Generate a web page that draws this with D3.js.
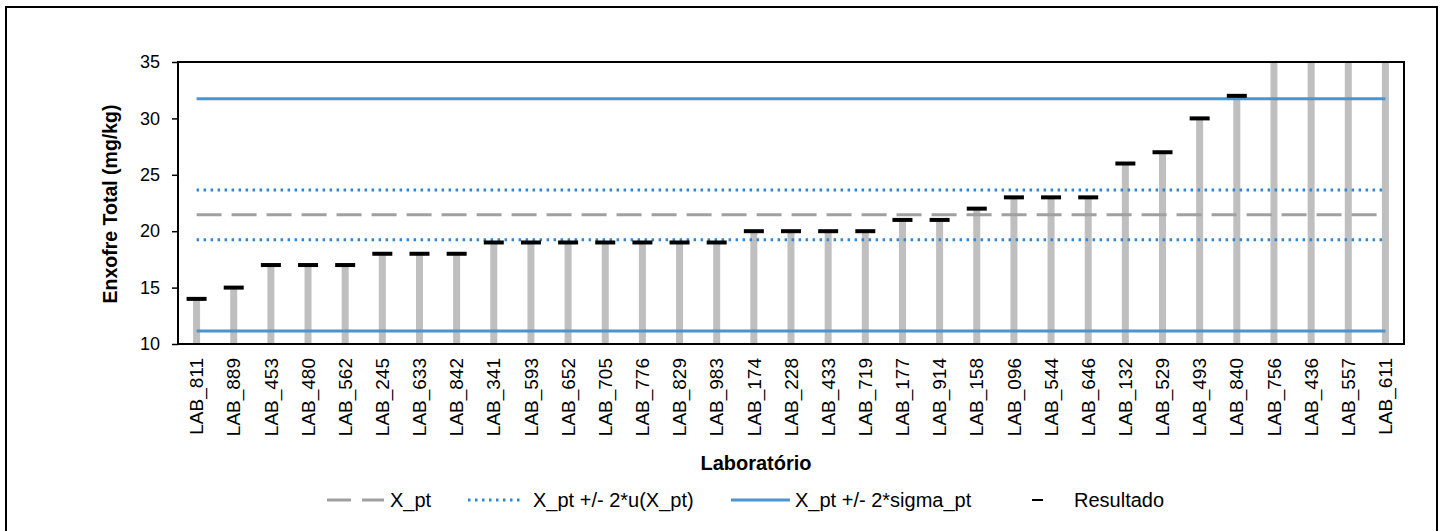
<!DOCTYPE html>
<html>
<head>
<meta charset="utf-8">
<script src="https://cdn.jsdelivr.net/npm/d3@7"></script>
<style>
  body { margin: 0; background: #fff; }
  svg { display: block; font-family: "Liberation Sans", Arial, sans-serif; }
</style>
</head>
<body>
<div id="graf"></div>
<script>
// Enxofre total por laboratório

// datos
labs = ['LAB_811', 'LAB_889', 'LAB_453', 'LAB_480', 'LAB_562', 'LAB_245', 'LAB_633',
        'LAB_842', 'LAB_341', 'LAB_593', 'LAB_652', 'LAB_705', 'LAB_776', 'LAB_829',
        'LAB_983', 'LAB_174', 'LAB_228', 'LAB_433', 'LAB_719', 'LAB_177', 'LAB_914',
        'LAB_158', 'LAB_096', 'LAB_544', 'LAB_646', 'LAB_132', 'LAB_529', 'LAB_493',
        'LAB_840', 'LAB_756', 'LAB_436', 'LAB_557', 'LAB_611']
resultados = [14, 15, 17, 17, 17, 18, 18, 18, 19, 19, 19, 19, 19, 19, 19, 20, 20, 20, 20,
              21, 21, 22, 23, 23, 23, 26, 27, 30, 32, 45, 52, 60, 70]
x_pt = 21.45
lim_u = [19.25, 23.65]        // X_pt +/- 2*u(X_pt)
lim_sigma = [11.15, 31.75]    // X_pt +/- 2*sigma_pt
yTicks = [10, 15, 20, 25, 30, 35]
leyenda = ['X_pt', 'X_pt +/- 2*u(X_pt)', 'X_pt +/- 2*sigma_pt', 'Resultado']

ancho_total = 1448
alto_total = 531
plot = { left: 178, top: 62, right: 1404, bottom: 344 }

svg = d3.select('#graf').append('svg')
        .attr('width', ancho_total)
        .attr('height', alto_total)

// marco exterior
svg.append('rect')
   .attr('x', 6).attr('y', 7)
   .attr('width', 1431).attr('height', 540)
   .attr('fill', '#fff')
   .attr('stroke', '#000')
   .attr('stroke-width', 2)

// Escaladores
x = d3.scaleBand().domain(labs).range([plot.left, plot.right]).padding(0)
y = d3.scaleLinear().domain([10, 35]).range([plot.bottom, plot.top])
cx = d => x(d) + x.bandwidth() / 2

svg.append('clipPath').attr('id', 'clip')
   .append('rect')
   .attr('x', plot.left).attr('y', plot.top)
   .attr('width', plot.right - plot.left).attr('height', plot.bottom - plot.top)

g = svg.append('g').attr('clip-path', 'url(#clip)')

// barras
g.selectAll('.barra')
 .data(labs)
 .enter().append('rect')
 .attr('class', 'barra')
 .attr('x', d => cx(d) - 3.5)
 .attr('width', 7)
 .attr('y', (d, i) => y(resultados[i]))
 .attr('height', (d, i) => y(10) - y(resultados[i]))
 .attr('fill', '#bfbfbf')

// líneas de referencia
x0 = cx(labs[0])
x1 = cx(labs[labs.length - 1])
function hline(v, color, dash) {
  g.append('line')
   .attr('x1', x0).attr('x2', x1)
   .attr('y1', y(v)).attr('y2', y(v))
   .attr('stroke', color)
   .attr('stroke-width', 3)
   .attr('stroke-dasharray', dash)
}
hline(x_pt, '#a0a0a0', '25,10')
lim_u.forEach(v => hline(v, '#2f87d4', '2.5,4.5'))
lim_sigma.forEach(v => hline(v, '#4a94d2', null))

// marcadores de resultado
g.selectAll('.marca')
 .data(labs)
 .enter().append('rect')
 .attr('class', 'marca')
 .attr('x', d => cx(d) - 10)
 .attr('width', 20)
 .attr('y', (d, i) => y(resultados[i]) - 2)
 .attr('height', 4)
 .attr('fill', '#000')

// borde del área
svg.append('rect')
   .attr('x', plot.left).attr('y', plot.top)
   .attr('width', plot.right - plot.left).attr('height', plot.bottom - plot.top)
   .attr('fill', 'none')
   .attr('stroke', '#000')
   .attr('stroke-width', 2)

// Ejes
yAxis = svg.append('g')
   .attr('transform', `translate(${plot.left}, 0)`)
   .call(d3.axisLeft(y).tickValues(yTicks).tickSize(6).tickPadding(12))
yAxis.select('.domain').remove()
yAxis.selectAll('line').attr('stroke', '#000').attr('stroke-width', 1.5)
yAxis.selectAll('text').attr('font-size', 18).attr('fill', '#000')
     .attr('font-family', '"Liberation Sans", Arial, sans-serif')

xAxis = svg.append('g')
   .attr('transform', `translate(0, ${plot.bottom})`)
   .call(d3.axisBottom(x).tickSize(0))
xAxis.select('.domain').remove()
xAxis.selectAll('text')
     .attr('font-size', 19).attr('fill', '#000')
     .attr('font-family', '"Liberation Sans", Arial, sans-serif')
     .attr('text-anchor', 'end')
     .attr('transform', 'rotate(-90)')
     .attr('x', -14).attr('y', 0).attr('dy', '0.35em')

// Títulos
svg.append('text')
   .attr('transform', 'translate(117, 204) rotate(-90)')
   .attr('text-anchor', 'middle')
   .attr('font-size', 19.5).attr('font-weight', 'bold')
   .text('Enxofre Total (mg/kg)')

svg.append('text')
   .attr('x', 756).attr('y', 470)
   .attr('text-anchor', 'middle')
   .attr('font-size', 20).attr('font-weight', 'bold')
   .text('Laboratório')

// Leyenda
ly = 500
leg = svg.append('g')
leg.append('line').attr('x1', 327).attr('x2', 384).attr('y1', ly).attr('y2', ly)
   .attr('stroke', '#a0a0a0').attr('stroke-width', 3).attr('stroke-dasharray', '24,11')
leg.append('line').attr('x1', 468).attr('x2', 524).attr('y1', ly).attr('y2', ly)
   .attr('stroke', '#2f87d4').attr('stroke-width', 3).attr('stroke-dasharray', '2.5,4.5')
leg.append('line').attr('x1', 731).attr('x2', 790).attr('y1', ly).attr('y2', ly)
   .attr('stroke', '#4a94d2').attr('stroke-width', 3)
leg.append('line').attr('x1', 1032).attr('x2', 1043).attr('y1', ly).attr('y2', ly)
   .attr('stroke', '#000').attr('stroke-width', 2)

legX = [390, 533, 795, 1074]
leg.selectAll('.ltext')
   .data(leyenda)
   .enter().append('text')
   .attr('class', 'ltext')
   .attr('x', (d, i) => legX[i])
   .attr('y', ly + 7)
   .attr('font-size', 20)
   .text(d => d)
</script>
</body>
</html>
